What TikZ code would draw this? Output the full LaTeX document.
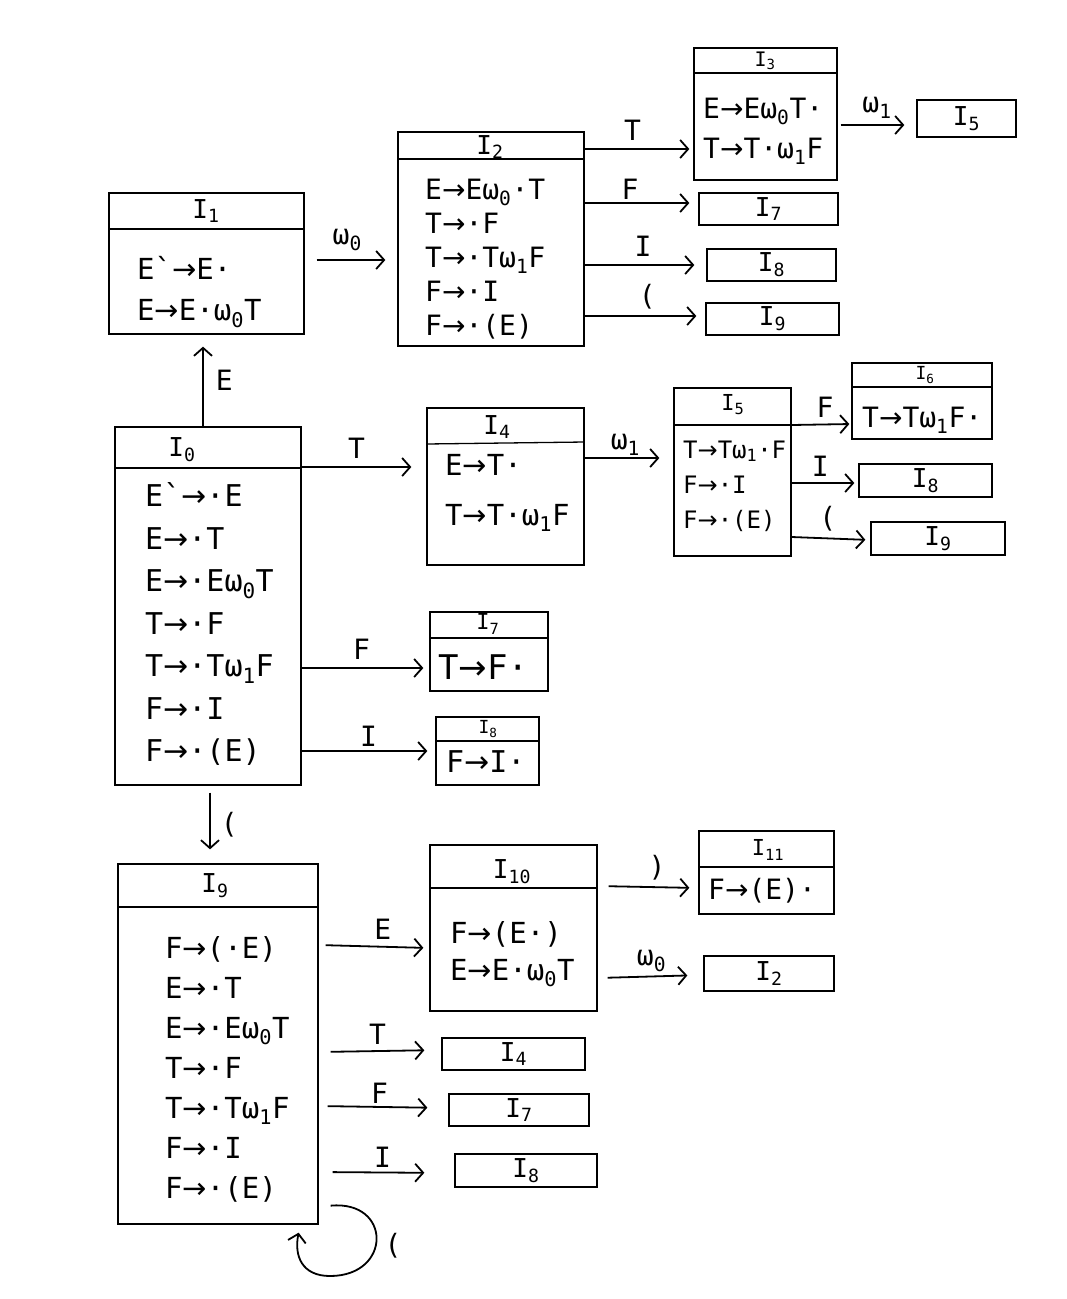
\documentclass[tikz,border=0pt]{standalone}
\usepackage{fontspec}
\setmainfont{DejaVu Sans Mono}
\newfontfamily\arrowfont{DejaVu Sans}
\newcommand\yields{{\arrowfont →}}
\usetikzlibrary{arrows.meta}

\begin{document}
\begin{tikzpicture}[x=1pt,y=-1pt,
    box/.style={draw,line width=1.3pt,inner sep=0pt,font=\fontsize{26}{30}\selectfont},
    hline/.style={line width=1.3pt},
    head/.style={inner sep=0pt,font=\fontsize{26}{30}\selectfont},
    items/.style={inner sep=0pt,anchor=west,align=left,font=\fontsize{29}{40}\selectfont},
    sym/.style={inner sep=0pt,font=\fontsize{28}{30}\selectfont},
    arr/.style={-{Straight Barb[length=8pt,width=18pt]},line width=1.8pt}]
  \useasboundingbox[fill=white] (0,0) rectangle (1066,1299);

  % state I0
  \node[box,minimum width=186pt,minimum height=358pt] (i0) at (208,606) {};
  \draw[hline] (i0.west |- 0,468) -- (i0.east |- 0,468);
  \node[head] (i0h) at (182,450) {I\textsubscript{0}};
  \node[items,font=\fontsize{30}{42.5}\selectfont] (i0r) at (145,624)
    {E\textasciigrave\yields·E\\E\yields·T\\E\yields·Eω\textsubscript{0}T\\T\yields·F\\T\yields·Tω\textsubscript{1}F\\F\yields·I\\F\yields·(E)};

  % state I1
  \node[box,minimum width=195pt,minimum height=141pt] (i1) at (206.5,263.5) {};
  \draw[hline] (i1.west |- 0,229) -- (i1.east |- 0,229);
  \node[head] (i1h) at (206,211) {I\textsubscript{1}};
  \node[items,font=\fontsize{29}{41}\selectfont] (i1r) at (137,292)
    {E\textasciigrave\yields E·\\E\yields E·ω\textsubscript{0}T};

  % state I2
  \node[box,minimum width=186pt,minimum height=214pt] (i2) at (491,239) {};
  \draw[hline] (i2.west |- 0,159) -- (i2.east |- 0,159);
  \node[head] (i2h) at (490,147) {I\textsubscript{2}};
  \node[items,font=\fontsize{28}{34}\selectfont] (i2r) at (425,259)
    {E\yields Eω\textsubscript{0}·T\\T\yields·F\\T\yields·Tω\textsubscript{1}F\\F\yields·I\\F\yields·(E)};

  % state I3
  \node[box,minimum width=143pt,minimum height=132pt] (i3) at (765.5,114) {};
  \draw[hline] (i3.west |- 0,73) -- (i3.east |- 0,73);
  \node[head,font=\fontsize{20}{24}\selectfont] (i3h) at (765,61) {I\textsubscript{3}};
  \node[items,font=\fontsize{28}{40}\selectfont] (i3r) at (703,131)
    {E\yields Eω\textsubscript{0}T·\\T\yields T·ω\textsubscript{1}F};

  % targets of I2 and I3
  \node[box,minimum width=99pt,minimum height=37pt] (i5a) at (966.5,118.5) {I\textsubscript{5}};
  \node[box,minimum width=139pt,minimum height=32pt] (i7a) at (768.5,209) {I\textsubscript{7}};
  \node[box,minimum width=129pt,minimum height=32pt] (i8a) at (771.5,265) {I\textsubscript{8}};
  \node[box,minimum width=133pt,minimum height=32pt] (i9a) at (772.5,319) {I\textsubscript{9}};

  % state I4
  \node[box,minimum width=157pt,minimum height=157pt] (i4) at (505.5,486.5) {};
  \draw[hline] (i4.west |- 0,444) -- (i4.east |- 0,442);
  \node[head] (i4h) at (497,427) {I\textsubscript{4}};
  \node[items,font=\fontsize{29}{50}\selectfont] (i4r) at (445,493)
    {E\yields T·\\T\yields T·ω\textsubscript{1}F};

  % state I5
  \node[box,minimum width=117pt,minimum height=168pt] (i5) at (732.5,472) {};
  \draw[hline] (i5.west |- 0,425) -- (i5.east |- 0,425);
  \node[head,font=\fontsize{22}{26}\selectfont] (i5h) at (733,405) {I\textsubscript{5}};
  \node[items,font=\fontsize{24}{35}\selectfont] (i5r) at (683,486)
    {T\yields Tω\textsubscript{1}·F\\F\yields·I\\F\yields·(E)};

  % state I6 and targets of I5
  \node[box,minimum width=140pt,minimum height=76pt] (i6) at (922,401) {};
  \draw[hline] (i6.west |- 0,387) -- (i6.east |- 0,387);
  \node[head,font=\fontsize{18}{22}\selectfont] (i6h) at (925,375) {I\textsubscript{6}};
  \node[items,font=\fontsize{28}{34}\selectfont] (i6r) at (862,420) {T\yields Tω\textsubscript{1}F·};
  \node[box,minimum width=133pt,minimum height=33pt] (i8b) at (925.5,480.5) {I\textsubscript{8}};
  \node[box,minimum width=134pt,minimum height=33pt] (i9b) at (938,538.5) {I\textsubscript{9}};

  % state I7
  \node[box,minimum width=118pt,minimum height=79pt] (i7) at (489,651.5) {};
  \draw[hline] (i7.west |- 0,638) -- (i7.east |- 0,638);
  \node[head,font=\fontsize{22}{26}\selectfont] (i7h) at (488,624) {I\textsubscript{7}};
  \node[items,font=\fontsize{34}{40}\selectfont] (i7r) at (438,667) {T\yields F·};

  % state I8
  \node[box,minimum width=103pt,minimum height=68pt] (i8) at (487.5,751) {};
  \draw[hline] (i8.west |- 0,741) -- (i8.east |- 0,741);
  \node[head,font=\fontsize{18}{22}\selectfont] (i8h) at (488,729) {I\textsubscript{8}};
  \node[items,font=\fontsize{30}{40}\selectfont] (i8r) at (446,762) {F\yields I·};

  % state I9
  \node[box,minimum width=200pt,minimum height=360pt] (i9) at (218,1044) {};
  \draw[hline] (i9.west |- 0,907) -- (i9.east |- 0,907);
  \node[head] (i9h) at (215,886) {I\textsubscript{9}};
  \node[items,font=\fontsize{29}{40}\selectfont] (i9r) at (165,1069)
    {F\yields(·E)\\E\yields·T\\E\yields·Eω\textsubscript{0}T\\T\yields·F\\T\yields·Tω\textsubscript{1}F\\F\yields·I\\F\yields·(E)};

  % state I10
  \node[box,minimum width=167pt,minimum height=166pt] (i10) at (513.5,928) {};
  \draw[hline] (i10.west |- 0,888) -- (i10.east |- 0,888);
  \node[head] (i10h) at (512,872) {I\textsubscript{10}};
  \node[items,font=\fontsize{29}{37}\selectfont] (i10r) at (450,954)
    {F\yields(E·)\\E\yields E·ω\textsubscript{0}T};

  % state I11
  \node[box,minimum width=135pt,minimum height=83pt] (i11) at (766.5,872.5) {};
  \draw[hline] (i11.west |- 0,867) -- (i11.east |- 0,867);
  \node[head,font=\fontsize{22}{26}\selectfont] (i11h) at (768,850) {I\textsubscript{11}};
  \node[items,font=\fontsize{28}{34}\selectfont] (i11r) at (708,891) {F\yields(E)·};

  % targets of I9 and I10
  \node[box,minimum width=130pt,minimum height=35pt] (i2b) at (769,973.5) {I\textsubscript{2}};
  \node[box,minimum width=143pt,minimum height=32pt] (i4b) at (513.5,1054) {I\textsubscript{4}};
  \node[box,minimum width=140pt,minimum height=32pt] (i7b) at (519,1110) {I\textsubscript{7}};
  \node[box,minimum width=142pt,minimum height=33pt] (i8c) at (526,1170.5) {I\textsubscript{8}};

  % transitions
  \draw[arr,shorten >=12pt] (i0.north -| 203,0) -- node[sym,right=12pt] (e01) {E} (i1.south -| 203,0);
  \draw[arr,shorten <=12pt,shorten >=12pt] (i1.east |- 0,260) -- node[sym,above=8pt,pos=.46] (e12) {ω\textsubscript{0}} (i2.west |- 0,260);
  \draw[arr,shorten >=4pt] (i2.east |- 0,149) -- node[sym,above=8pt,pos=.44] (e23) {T} (i3.west |- 0,149);
  \draw[arr,shorten >=9pt] (i2.east |- 0,203) -- node[sym,above=3pt,pos=.40] (e27) {F} (i7a.west |- 0,203);
  \draw[arr,shorten >=12pt] (i2.east |- 0,265) -- node[sym,above=8pt,pos=.48] (e28) {I} (i8a.west |- 0,265);
  \draw[arr,shorten >=9pt] (i2.east |- 0,316) -- node[sym,above=6pt,pos=.52] (e29) {(} (i9a.west |- 0,316);
  \draw[arr,shorten <=3pt,shorten >=12pt] (i3.east |- 0,125) -- node[sym,above=6pt,pos=.5] (e35) {ω\textsubscript{1}} (i5a.west |- 0,125);
  \draw[arr,shorten >=15pt] (i0.east |- 0,467) -- node[sym,above=8pt,pos=.44] (e04) {T} (i4.west |- 0,467);
  \draw[arr,shorten >=14pt] (i4.east |- 0,458) -- node[sym,above=2pt,pos=.46] (e45) {ω\textsubscript{1}} (i5.west |- 0,458);
  \draw[arr,shorten >=2pt] (i5.east |- 0,425) -- node[sym,above=6pt,pos=.56] (e56) {F} (i6.west |- 0,424);
  \draw[arr,shorten >=4pt] (i5.east |- 0,483) -- node[sym,above=6pt,pos=.43] (e58) {I} (i8b.west |- 0,483);
  \draw[arr,shorten >=5pt] (i5.east |- 0,537) -- node[sym,above=6pt,pos=.46] (e59) {(} (i9b.west |- 0,540);
  \draw[arr,shorten >=6pt] (i0.east |- 0,668) -- node[sym,above=8pt,pos=.47] (e07) {F} (i7.west |- 0,668);
  \draw[arr,shorten >=8pt] (i0.east |- 0,751) -- node[sym,above=4pt,pos=.5] (e08) {I} (i8.west |- 0,751);
  \draw[arr,shorten <=7pt,shorten >=14pt] (i0.south -| 210,0) -- node[sym,right=10pt] (e09) {(} (i9.north -| 210,0);
  \draw[arr,shorten <=7pt,shorten >=6pt] (i9.east |- 0,945) -- node[sym,above=6pt,pos=.58] (e910) {E} (i10.west |- 0,948);
  \draw[arr,shorten <=11pt,shorten >=9pt] (i10.east |- 0,886) -- node[sym,above=6pt,pos=.59] (e1011) {)} (i11.west |- 0,888);
  \draw[arr,shorten <=10pt,shorten >=16pt] (i10.east |- 0,978) -- node[sym,above=4pt,pos=.51] (e102) {ω\textsubscript{0}} (i2b.west |- 0,975);
  \draw[arr,shorten <=12pt,shorten >=17pt] (i9.east |- 0,1052) -- node[sym,above=6pt,pos=.48] (e94) {T} (i4b.west |- 0,1050);
  \draw[arr,shorten <=9pt,shorten >=21pt] (i9.east |- 0,1106) -- node[sym,above=3pt,pos=.47] (e97) {F} (i7b.west |- 0,1108);
  \draw[arr,shorten <=14pt,shorten >=30pt] (i9.east |- 0,1172) -- node[sym,above=4pt,pos=.47] (e98) {I} (i8c.west |- 0,1173);
  \draw[arr] ([xshift=12pt,yshift=19pt]i9.south east) .. controls (392,1200) and (392,1276) .. (330,1276)
    .. controls (302,1276) and (294,1256) .. ([xshift=-20pt,yshift=-8pt]i9.south east);
  \node[sym] (e99) at (393,1246) {(};
\end{tikzpicture}
\end{document}
